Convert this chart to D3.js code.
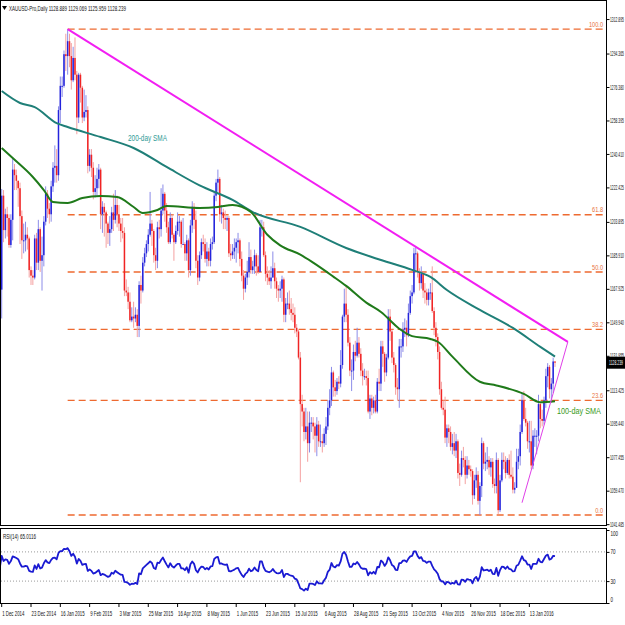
<!DOCTYPE html>
<html><head><meta charset="utf-8">
<script src="https://cdn.jsdelivr.net/npm/d3@7"></script>
<style>
body{margin:0;background:#fff}
svg{display:block}
text{font-family:"Liberation Sans","Arial",sans-serif}
</style>
</head><body>
<svg id="c" width="625" height="625"></svg>
<script>
// ---------- DATA ----------
const opens=[1167.5,1218,1199.5,1208,1206,1191.5,1205,1232,1229,1226,
1222,1207,1194,1194,1197,1195,1178,1175,1174,1195,
1182,1200,1183,1186,1204,1219,1211,1208,1223,1233,
1234,1229,1264,1277,1277,1294,1293,1301,1293,1280,
1292,1283,1260,1283,1276,1260,1263,1264,1234,1240,
1233,1220,1222,1227,1232,1208,1212,1209,1203,1198,
1200,1209,1205,1213,1208,1203,1199,1198,1167,1166,
1161,1151,1153,1152,1154,1148,1170,1167,1182,1187,
1192,1197,1203,1199,1186,1183,1201,1200,1210,1219,
1210,1201,1193,1206,1197,1193,1199,1204,1204,1192,
1192,1187,1194,1178,1202,1212,1205,1183,1174,1186,
1193,1192,1184,1188,1183,1192,1193,1218,1225,1227,
1208,1209,1206,1205,1206,1187,1186,1188,1190,1193,
1194,1184,1175,1168,1174,1177,1185,1178,1180,1186,
1180,1177,1201,1201,1186,1176,1174,1172,1174,1179,
1172,1168,1167,1168,1173,1154,1160,1160,1157,1155,
1154,1147,1145,1131,1106,1102,1091,1094,1085,1096,
1096,1094,1089,1095,1086,1086,1085,1090,1094,1104,
1108,1123,1115,1113,1118,1117,1127,1153,1160,1154,
1139,1124,1124,1134,1132,1139,1133,1124,1121,1121,
1120,1102,1109,1104,1108,1102,1118,1117,1137,1133,
1123,1131,1153,1145,1131,1127,1115,1114,1137,1137,
1146,1147,1143,1155,1164,1166,1187,1187,1177,1171,
1176,1167,1166,1162,1166,1166,1156,1147,1142,1134,
1114,1104,1103,1088,1093,1091,1083,1085,1081,1086,
1069,1068,1077,1076,1068,1073,1071,1070,1057,1065,
1068,1054,1062,1085,1074,1075,1076,1072,1075,1063,
1062,1076,1049,1065,1076,1075,1069,1076,1068,1067,
1060,1061,1075,1078,1091,1108,1098,1096,1086,1086,
1073,1089,1089,1089,1106,1098,1097,1108,1121,1126,
1114,1117,1128.889];
const highs=[1221.6,1221,1211,1212,1208,1208,1238.5,1235,1232,1226,
1225,1210,1203,1204,1201,1196,1180,1178,1197,1198,
1205,1201,1196,1207,1223,1221,1214,1226,1236,1245,
1243,1266,1282,1282,1296,1305,1307.5,1305,1300,1298,
1303,1285,1284,1284,1277,1275,1272,1266,1243,1243,
1236,1229,1233,1235,1233,1215,1214,1210,1204,1207,
1212,1219,1221,1218,1213,1206,1206,1201,1173,1169,
1166,1158,1161,1158,1157,1172,1175,1185,1190,1194,
1200,1220,1205,1200,1190,1204,1205,1222,1224,1220,
1214,1204,1209,1208,1198,1202,1209,1207,1205,1206,
1193,1197,1195,1205,1215,1214,1210,1186,1188,1195,
1197,1195,1193,1190,1195,1196,1220,1227,1232,1228,
1213,1211,1210,1207,1207,1192,1192,1195,1195,1198,
1195,1188,1178,1176,1183,1193,1189,1183,1189,1187,
1186,1205,1205,1204,1188,1180,1178,1180,1188,1182,
1174,1170,1172,1175,1174,1163,1166,1167,1163,1160,
1158,1149,1146,1134,1111,1104,1104,1102,1102,1099,
1099,1096,1099,1097,1095,1090,1093,1099,1108,1114,
1126,1124,1119,1120,1121,1135,1154,1168,1169,1157,
1142,1130,1138,1140,1147,1142,1136,1128,1125,1124,
1124,1111,1111,1110,1111,1120,1125,1140,1140,1134,
1133,1157,1157,1146,1134,1128,1120,1141,1141,1150,
1152,1151,1160,1167,1170,1190,1191,1188,1179,1180,
1177,1171,1168,1168,1171,1180,1158,1150,1144,1137,
1118,1108,1110,1095,1095,1094,1090,1091,1090,1087,
1074,1081,1083,1078,1078,1076,1073,1071,1068,1072,
1070,1064,1088,1086,1080,1083,1078,1077,1077,1066,
1080,1077,1068,1080,1080,1078,1077,1079,1081,1072,
1064,1082,1082,1095,1112,1113,1104,1097,1097,1097,
1092,1093,1092,1111,1107,1103,1110,1125,1128,1127,
1120,1131,1129.069];
const lows=[1152,1193,1195,1196,1190,1190,1194,1221,1221,1212,
1192,1184,1187,1188,1189,1174,1170,1170,1173,1178,
1178,1177,1167,1180,1202,1206,1203,1204,1220,1225,
1225,1226,1257,1271,1276,1285,1283,1287,1275,1279,
1280,1251,1257,1268,1257,1258,1260,1230,1231,1228,
1216,1217,1218,1222,1200,1198,1196,1190,1192,1191,
1198,1199,1203,1201,1199,1193,1195,1164,1164,1157,
1150,1150,1147,1150,1142,1142,1160,1166,1180,1185,
1188,1196,1191,1182,1178,1179,1195,1196,1208,1204,
1198,1192,1192,1195,1183,1192,1197,1196,1190,1192,
1183,1183,1174,1175,1198,1200,1179,1170,1172,1184,
1188,1182,1180,1180,1180,1189,1192,1215,1220,1204,
1203,1200,1200,1199,1185,1183,1184,1184,1182,1187,
1180,1172,1162,1166,1170,1174,1176,1176,1176,1175,
1176,1177,1196,1185,1172,1170,1170,1168,1174,1168,
1163,1161,1163,1161,1150,1150,1157,1154,1151,1150,
1144,1142,1130,1064,1094,1086,1087,1075,1080,1091,
1087,1080,1078,1083,1083,1080,1083,1084,1092,1100,
1105,1110,1110,1111,1114,1115,1125,1150,1150,1137,
1121,1113,1119,1129,1131,1131,1121,1116,1119,1116,
1101,1098,1100,1101,1101,1101,1113,1113,1126,1118,
1121,1130,1140,1128,1123,1111,1108,1104,1131,1134,
1142,1137,1142,1154,1160,1165,1178,1174,1167,1168,
1163,1160,1159,1159,1162,1155,1143,1137,1130,1111,
1103,1100,1085,1083,1085,1081,1079,1078,1077,1066,
1062,1067,1072,1063,1066,1068,1067,1052,1055,1061,
1052,1046.4,1056,1071,1070,1071,1068,1067,1061,1058,
1058,1047,1048,1064,1071,1066,1068,1066,1066,1058,
1058,1061,1071,1073,1090,1097,1094,1082,1080,1071,
1071,1083,1079,1086,1093,1094,1095,1104,1115,1109,
1107,1112,1125.959];
const closes=[1218,1199.5,1208,1206,1191.5,1205,1232,1229,1226,1222,
1207,1194,1194,1197,1195,1178,1175,1174,1195,1182,
1200,1183,1186,1204,1219,1211,1208,1223,1233,1234,
1229,1264,1277,1277,1294,1293,1301,1293,1280,1292,
1283,1260,1283,1276,1260,1263,1264,1234,1240,1233,
1220,1222,1227,1232,1208,1212,1209,1203,1198,1200,
1209,1205,1213,1208,1203,1199,1198,1167,1166,1161,
1151,1153,1152,1154,1148,1170,1167,1182,1187,1192,
1197,1203,1199,1186,1183,1201,1200,1210,1219,1210,
1201,1193,1206,1197,1193,1199,1204,1204,1192,1192,
1187,1194,1178,1202,1212,1205,1183,1174,1186,1193,
1192,1184,1188,1183,1192,1193,1218,1225,1227,1208,
1209,1206,1205,1206,1187,1186,1188,1190,1193,1194,
1184,1175,1168,1174,1177,1185,1178,1180,1186,1180,
1177,1201,1201,1186,1176,1174,1172,1174,1179,1172,
1168,1167,1168,1173,1154,1160,1160,1157,1155,1154,
1147,1145,1131,1106,1102,1091,1094,1085,1096,1096,
1094,1089,1095,1086,1086,1085,1090,1094,1104,1108,
1123,1115,1113,1118,1117,1127,1153,1160,1154,1139,
1124,1124,1134,1132,1139,1133,1124,1121,1121,1120,
1102,1109,1104,1108,1102,1118,1117,1137,1133,1123,
1131,1153,1145,1131,1127,1115,1114,1137,1137,1146,
1147,1143,1155,1164,1166,1187,1187,1177,1171,1176,
1167,1166,1162,1166,1166,1156,1147,1142,1134,1114,
1104,1103,1088,1093,1091,1083,1085,1081,1086,1069,
1068,1077,1076,1068,1073,1071,1070,1057,1065,1068,
1054,1062,1085,1074,1075,1076,1072,1075,1063,1062,
1076,1049,1065,1076,1075,1069,1076,1068,1067,1060,
1061,1075,1078,1091,1108,1098,1096,1086,1086,1073,
1089,1089,1089,1106,1098,1097,1108,1121,1126,1114,
1117,1128.9,1128.239];
// closes of the bars just before the visible window (used to seed RSI)
const rsiSeedCloses=[1169,1151,1162,1161,1161,1186,1188,1198,1184,1191,1200,1197,1197,1197,1192,1167.5];

const sma200Bars=[0,10,18,30,36,54,72,90,108,126,137,163,188,207,224,234,243,261,279,294,302];
const sma200Vals=[1274.2,1267.8,1265.6,1257,1254.9,1249.5,1243.6,1233.4,1223.5,1215.7,1209.2,1201.2,1189.9,1183.4,1178.1,1174.3,1167.3,1156.6,1146.9,1136.7,1131.5];
const sma100Bars=[0,6,17,23,28,36,44,54,63,72,77,85,90,108,118,126,136,145,152,163,170,181,188,199,207,217,224,234,238,246,261,270,285,294,302];
const sma100Vals=[1243.6,1238.2,1228.0,1221.0,1214.6,1214.1,1216.7,1217.8,1217.3,1211.9,1208.7,1210.3,1212.4,1211.4,1211.9,1213.0,1209.2,1197.0,1191.3,1186.3,1182.0,1174.5,1169.5,1160.5,1155.5,1146.5,1142.5,1141.0,1139.5,1131.5,1118.0,1116.0,1111.5,1107.0,1107.5];

const fibLevels=[100.0,61.8,50.0,38.2,23.6,0.0];
const fibLabels=["100.0","61.8","50.0","38.2","23.6","0.0"];
const fibHigh=1307.5, fibLow=1046.4, fibStartBar=36;

const resistBars=[36,309], resistPrices=[1307.5,1139.4];
const supportBars=[284,309], supportPrices=[1053,1139.4];

const priceTicks=[1312.895,1294.365,1276.380,1258.395,1240.410,1222.425,1203.895,1185.910,1167.925,1149.940,1131.955,1113.425,1095.440,1077.455,1059.470,1041.485];
const rsiTicks=[100,70,30,0];
const dateLabels=["1 Dec 2014","23 Dec 2014","16 Jan 2015","9 Feb 2015","3 Mar 2015","25 Mar 2015","16 Apr 2015","8 May 2015","1 Jun 2015","23 Jun 2015","15 Jul 2015","6 Aug 2015","28 Aug 2015","21 Sep 2015","13 Oct 2015","4 Nov 2015","26 Nov 2015","18 Dec 2015","13 Jan 2016"];
const dateLabelBars=[0,16,32,48,64,80,96,112,128,144,160,176,192,208,224,240,256,272,288];

const titleText="XAUUSD-Pro,Daily 1128.889 1129.069 1125.959 1128.239";
const lastPrice=1128.239;
const rsiLabel="RSI(14) 65.0116";

// ---------- DRAW ----------
const svg=d3.select("#c");
const R=606.5;
const x=d3.scaleLinear().domain([0,302]).range([1.7,555]);
const y=d3.scaleLinear().domain([1041.485,1312.895]).range([524.15,19.05]);
const yr=d3.scaleLinear().domain([0,100]).range([603,530]);

// horizontally squeeze text so that it occupies `w` pixels (narrow chart font look)
function squeezeTo(sel,w){sel.each(function(){
  const t=d3.select(this); const nat=this.getComputedTextLength(); const target=(typeof w==="function")?w(nat):w;
  const sx=Math.min(1,target/nat); const x0=+t.attr("x")||0; const y0=+t.attr("y")||0;
  t.attr("x",0).attr("y",0).attr("transform",`translate(${x0},${y0}) scale(${sx},1)`);
});}

const defs=svg.append("defs");
defs.append("clipPath").attr("id","cm").append("rect").attr("x",1).attr("y",1).attr("width",R-1).attr("height",524);
defs.append("clipPath").attr("id","cr").append("rect").attr("x",1).attr("y",529).attr("width",R-1).attr("height",74);

svg.append("rect").attr("width",625).attr("height",625).attr("fill","#fff");

// main panel
const gm=svg.append("g").attr("clip-path","url(#cm)");

// fib lines
const fibPrice=l=>fibLow+(fibHigh-fibLow)*l/100;
gm.selectAll("line.fib").data(fibLevels).join("line")
 .attr("x1",x(fibStartBar)).attr("x2",R).attr("y1",d=>y(fibPrice(d))).attr("y2",d=>y(fibPrice(d)))
 .attr("stroke","#ee6a30").attr("stroke-width",1.4).attr("stroke-dasharray","7,4");
const fl=svg.append("g").selectAll("text").data(fibLevels).join("text")
 .attr("x",603).attr("y",d=>y(fibPrice(d))-2.5).attr("text-anchor","end")
 .attr("font-size",7).attr("fill","#e8703a").text((d,i)=>fibLabels[i]);
squeezeTo(fl,n=>n*0.8);

// candles
const idx=d3.range(opens.length);
gm.selectAll("line.wick").data(idx).join("line")
 .attr("x1",i=>x(i)).attr("x2",i=>x(i)).attr("y1",i=>y(highs[i])).attr("y2",i=>y(lows[i]))
 .attr("stroke",i=>closes[i]>=opens[i]?"#8c8ce8":"#f4a0a0").attr("stroke-width",1);
gm.selectAll("rect.body").data(idx).join("rect")
 .attr("x",i=>x(i)-0.75).attr("width",1.5)
 .attr("y",i=>y(Math.max(opens[i],closes[i])))
 .attr("height",i=>Math.max(1,y(Math.min(opens[i],closes[i]))-y(Math.max(opens[i],closes[i]))))
 .attr("fill",i=>closes[i]>=opens[i]?"#2424dc":"#f02424");

// SMAs
const ln=d3.line().x(d=>x(d[0])).y(d=>y(d[1])).curve(d3.curveMonotoneX);
gm.append("path").datum(sma200Bars.map((b,i)=>[b,sma200Vals[i]])).attr("d",ln)
 .attr("fill","none").attr("stroke","#1f7f78").attr("stroke-width",2);
gm.append("path").datum(sma100Bars.map((b,i)=>[b,sma100Vals[i]])).attr("d",ln)
 .attr("fill","none").attr("stroke","#1f7a1a").attr("stroke-width",2);

// trend lines
const tl=d3.line().x(d=>x(d[0])).y(d=>y(d[1]));
gm.append("path").datum(resistBars.map((b,i)=>[b,resistPrices[i]])).attr("d",tl)
 .attr("stroke","#f21ef2").attr("stroke-width",2).attr("fill","none");
gm.append("path").datum(supportBars.map((b,i)=>[b,supportPrices[i]])).attr("d",tl)
 .attr("stroke","#e040e8").attr("stroke-width",1).attr("fill","none");

// SMA labels
const s2=svg.append("text").attr("x",128).attr("y",141).attr("font-size",9.5).attr("fill","#2f9a96").text("200-day SMA");
squeezeTo(s2,39);
const s1=svg.append("text").attr("x",557).attr("y",414).attr("font-size",9.5).attr("fill","#3a9a22").text("100-day SMA");
squeezeTo(s1,44);

// title
svg.append("path").attr("d","M2,6 L7,6 L4.5,10 Z").attr("fill","#000");
const tt=svg.append("text").attr("x",9).attr("y",11).attr("font-size",7).attr("fill","#111").text(titleText);
squeezeTo(tt,117);

// frames
svg.append("rect").attr("x",0.5).attr("y",0.5).attr("width",R-0.5).attr("height",525).attr("fill","none").attr("stroke","#000");
svg.append("rect").attr("x",0.5).attr("y",528.5).attr("width",R-0.5).attr("height",75).attr("fill","none").attr("stroke","#000");

// price axis
const pa=svg.append("g").attr("transform",`translate(${R},0)`)
 .call(d3.axisRight(y).tickValues(priceTicks).tickFormat(d3.format(".3f")).tickSize(3).tickSizeOuter(0));
pa.select(".domain").remove();
pa.selectAll("text").attr("font-size",6.5).attr("fill","#111").attr("x",3.5).attr("y",0).attr("dy","0.32em").style("font-family","Liberation Sans, Arial, sans-serif");
squeezeTo(pa.selectAll("text"),14);

// current price box
svg.append("rect").attr("x",R).attr("y",y(lastPrice)-6).attr("width",625-R).attr("height",12).attr("fill","#000");
const lp=svg.append("text").attr("x",R+2.5).attr("y",y(lastPrice)+2.5).attr("font-size",6.5).attr("fill","#fff").text(d3.format(".3f")(lastPrice));
squeezeTo(lp,14);

// RSI
const all=rsiSeedCloses.concat(closes);
const n=14; let ag=0,al=0; const rsi=[];
for(let j=1;j<all.length;j++){
 const d=all[j]-all[j-1], g=Math.max(d,0), l=Math.max(-d,0);
 if(j<=n){ag+=g/n;al+=l/n;}
 else{ag=(ag*(n-1)+g)/n;al=(al*(n-1)+l)/n;}
 if(j>=n){const bi=j-rsiSeedCloses.length; if(bi>=-1) rsi.push([bi, al===0?100:100-100/(1+ag/al)]);}
}
const gr=svg.append("g").attr("clip-path","url(#cr)");
gr.selectAll("line.lv").data([70,30]).join("line")
 .attr("x1",1).attr("x2",R).attr("y1",d=>yr(d)).attr("y2",d=>yr(d))
 .attr("stroke","#9a9a9a").attr("stroke-dasharray","1,2");
gr.append("path").datum(rsi).attr("d",d3.line().x(d=>x(d[0])).y(d=>yr(d[1])))
 .attr("fill","none").attr("stroke","#1a1ad2").attr("stroke-width",1.8).attr("stroke-linejoin","round");
const rl=svg.append("text").attr("x",3).attr("y",539).attr("font-size",7).attr("fill","#111").text(rsiLabel);
squeezeTo(rl,33);
const ra=svg.append("g").attr("transform",`translate(${R},0)`)
 .call(d3.axisRight(yr).tickValues(rsiTicks).tickFormat(d3.format("d")).tickSize(3).tickSizeOuter(0));
ra.select(".domain").remove();
ra.selectAll("text").attr("font-size",6.5).attr("fill","#111").attr("x",4).attr("y",0).style("font-family","Liberation Sans, Arial, sans-serif");
ra.selectAll(".tick").filter(d=>d===100).select("text").attr("dy","0.9em");
ra.selectAll(".tick").filter(d=>d===0).select("text").attr("dy","-0.3em");
squeezeTo(ra.selectAll("text"),n=>n*0.7);

// date axis
const da=svg.append("g");
da.selectAll("line").data(dateLabelBars).join("line")
 .attr("x1",d=>x(d)).attr("x2",d=>x(d)).attr("y1",603.5).attr("y2",607).attr("stroke","#000");
const dl=da.selectAll("text").data(dateLabelBars).join("text")
 .attr("x",d=>x(d)+0.5).attr("y",616).attr("font-size",7).attr("fill","#111").text((d,i)=>dateLabels[i]);
squeezeTo(dl,n=>n*0.62);
</script>
</body></html>
